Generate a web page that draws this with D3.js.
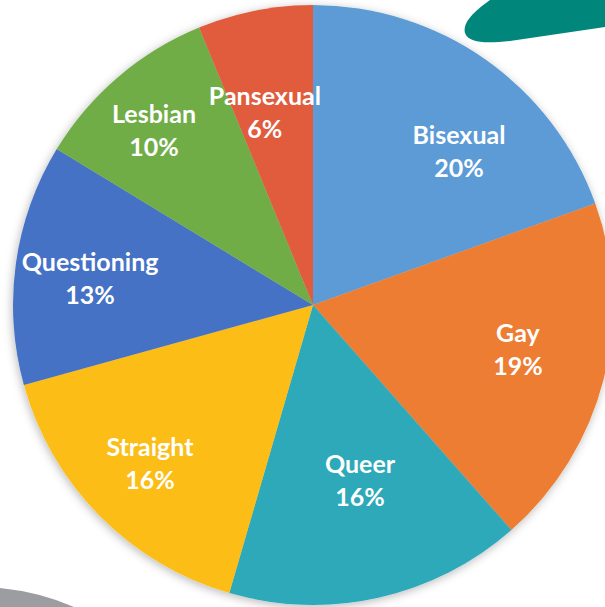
<!DOCTYPE html>
<html>
<head>
<meta charset="utf-8">
<script src="https://cdn.jsdelivr.net/npm/d3@7"></script>
<style>
  body { margin: 0; background: #fff; }
  svg { display: block; }
</style>
</head>
<body>
<svg id="chart"></svg>
<script>
// data, clockwise from 12 o'clock (slice sizes, labels show them rounded)
const categories = ["Bisexual", "Gay", "Queer", "Straight", "Questioning", "Lesbian", "Pansexual"];
const shares = [19.5, 19.0, 16.0, 16.2, 13.0, 10.1, 6.2];
const colors = ["#5b9bd5", "#ed7d31", "#2ea9b9", "#fbbd15", "#4472c4", "#70ad47", "#e05b3e"];

// label placement (fraction of radius, angle nudge in degrees) - mimics excel's best fit
const labelRadius = [0.707, 0.699, 0.606, 0.758, 0.748, 0.786, 0.663];
const labelTurn = [8.4, -2.15, -2.4, 0.45, -1.25, -1.9, -2.85];

const width = 605, height = 607;
const cx = 313, cy = 305, radius = 300;
const lineGap = 33;

const svg = d3.select("#chart")
    .attr("width", width)
    .attr("height", height);

// decorative shapes from the page behind the chart
svg.append("path")
    .attr("d", "M605 0 L490 0 C476 10 462 22 465 33 C469 44 488 43 510 41 L605 27 Z")
    .attr("fill", "#00867b");
svg.append("path")
    .attr("d", "M0 588 Q40 592 74 607 L0 607 Z")
    .attr("fill", "#9c9da1");

const defs = svg.append("defs");
const shadow = defs.append("filter")
    .attr("id", "shadow")
    .attr("x", "-20%").attr("y", "-20%")
    .attr("width", "140%").attr("height", "140%");
shadow.append("feDropShadow")
    .attr("dx", -1).attr("dy", 2)
    .attr("stdDeviation", 5)
    .attr("flood-color", "#000")
    .attr("flood-opacity", 0.28);

const color = d3.scaleOrdinal().domain(categories).range(colors);
const pct = d3.format(".0f");

const pie = d3.pie().sort(null).value(d => d.value);
const arcs = pie(categories.map((c, i) => ({name: c, value: shares[i], i: i})));

const arc = d3.arc().innerRadius(0).outerRadius(radius);

const g = svg.append("g")
    .attr("transform", `translate(${cx},${cy})`);

g.append("g")
    .attr("filter", "url(#shadow)")
  .selectAll("path")
    .data(arcs)
    .enter()
  .append("path")
    .attr("d", arc)
    .attr("fill", d => color(d.data.name));

// label anchor: centroid of a zero-width arc at the chosen radius, turned a bit
function labelPos(d) {
    const turn = labelTurn[d.data.i] * Math.PI / 180;
    const r = radius * labelRadius[d.data.i];
    return d3.arc().innerRadius(r).outerRadius(r)
        .startAngle(d.startAngle + turn)
        .endAngle(d.endAngle + turn)
        .centroid();
}

const labels = g.selectAll(".label")
    .data(arcs)
    .enter()
  .append("text")
    .attr("class", "label")
    .attr("transform", d => `translate(${labelPos(d)})`)
    .attr("text-anchor", "middle")
    .attr("fill", "#fff")
    .style("font-family", "Lato, 'Open Sans', sans-serif")
    .style("font-weight", "bold")
    .style("font-size", "25px");

labels.append("tspan")
    .attr("x", 0)
    .attr("y", -lineGap / 2 + 9)
    .text(d => d.data.name);
labels.append("tspan")
    .attr("x", 0)
    .attr("y", lineGap / 2 + 9)
    .text(d => pct(d.data.value) + "%");
</script>
</body>
</html>
